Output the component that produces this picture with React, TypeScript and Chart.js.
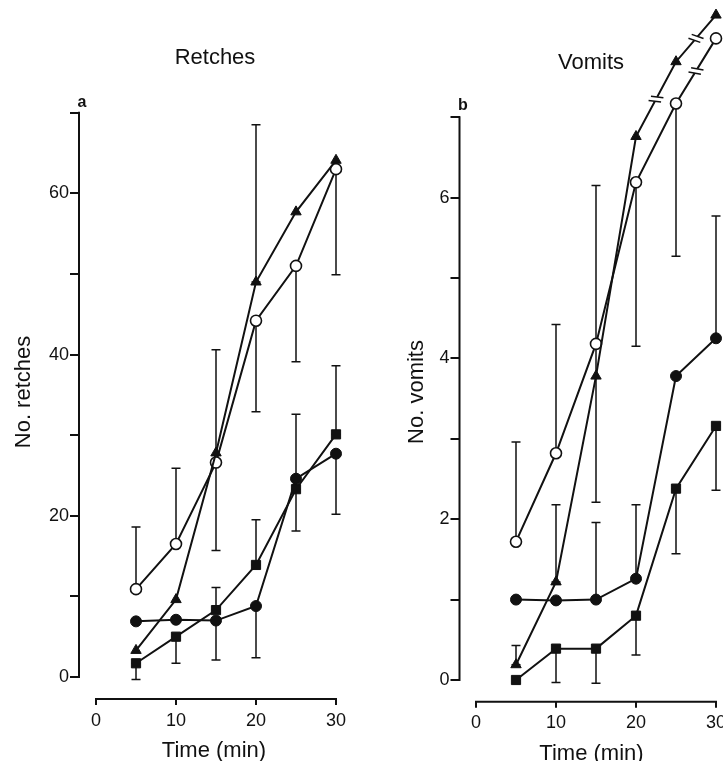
import React, { useEffect, useRef } from "react";
import { Chart, registerables } from "chart.js";

Chart.register(...registerables);

const FAMILY = "'Liberation Sans', Arial, Helvetica, sans-serif";
const INK = "#111111";

// ---- data ----
const TIMES = [5, 10, 15, 20, 25, 30];
const X_TICKS = [0, 10, 20, 30];

// Panel a: Retches
const RETCH_TICKS = [0, 10, 20, 30, 40, 50, 60, 70];
const RETCH_LABELS = [0, 20, 40, 60];
const retchOpen = [10.9, 16.5, 26.6, 44.2, 51.0, 63.0];
const retchTri = [3.3, 9.6, 27.8, 49.0, 57.7, 64.1];
const retchFilled = [6.9, 7.1, 7.0, 8.8, 24.6, 27.7];
const retchSquare = [1.7, 5.0, 8.3, 13.9, 23.3, 30.1];
// error bar extents [low, high] per time point
const retchOpenErr = [[10.9, 18.6], [16.5, 25.9], [15.7, 40.6], [32.9, 44.2], [39.1, 51.0], [49.9, 63.0]];
const retchTriErr = [null, null, null, [49.0, 68.5], null, null];
const retchFilledErr = [null, null, [2.1, 7.0], [2.4, 8.8], [18.1, 24.6], [20.2, 27.7]];
const retchSquareErr = [[-0.3, 1.7], [1.7, 5.0], [8.3, 11.1], [13.9, 19.5], [23.3, 32.6], [30.1, 38.6]];

// Panel b: Vomits
const VOMIT_TICKS = [0, 1, 2, 3, 4, 5, 6, 7];
const VOMIT_LABELS = [0, 2, 4, 6];
const vomitOpen = [1.72, 2.82, 4.18, 6.19, 7.17, 7.98];
const vomitTri = [0.19, 1.22, 3.78, 6.76, 7.69, 8.27];
const vomitFilled = [1.0, 0.99, 1.0, 1.26, 3.78, 4.25];
const vomitSquare = [0, 0.39, 0.39, 0.8, 2.38, 3.16];
const vomitOpenErr = [[1.72, 2.96], [2.82, 4.42], [2.21, 6.15], [4.15, 6.19], [5.27, 7.17], null];
const vomitTriErr = [[0.19, 0.43], [1.22, 2.18], null, null, null, null];
const vomitFilledErr = [null, null, [1.0, 1.96], [1.26, 2.18], null, [4.25, 5.77]];
const vomitSquareErr = [null, [-0.03, 0.39], [-0.04, 0.39], [0.31, 0.8], [1.57, 2.38], [2.36, 3.16]];
// axis-break marks: [series index, segment index]
const vomitBreaks = [[2, 3], [2, 4], [3, 4]];

type Kind = "open" | "tri" | "filled" | "square";
type Series = { kind: Kind; data: number[]; err: (number[] | null)[] };

const STYLE: Record<Kind, any> = {
  open: { pointStyle: "circle", pointRadius: 5.5, pointBackgroundColor: "#ffffff", pointBorderWidth: 1.6 },
  tri: { pointStyle: "triangle", pointRadius: 6, pointBackgroundColor: INK, pointBorderWidth: 1 },
  filled: { pointStyle: "circle", pointRadius: 5.5, pointBackgroundColor: INK, pointBorderWidth: 1 },
  square: { pointStyle: "rect", pointRadius: 6.5, pointBackgroundColor: INK, pointBorderWidth: 1 },
};

type Panel = {
  title: string;
  letter: string;
  yTitle: string;
  yTicks: number[];
  yLabels: number[];
  series: Series[];
  breaks: number[][];
  geo: any;
};

const PANELS: Panel[] = [
  {
    title: "Retches",
    letter: "a",
    yTitle: "No. retches",
    yTicks: RETCH_TICKS,
    yLabels: RETCH_LABELS,
    series: [
      { kind: "square", data: retchSquare, err: retchSquareErr },
      { kind: "filled", data: retchFilled, err: retchFilledErr },
      { kind: "tri", data: retchTri, err: retchTriErr },
      { kind: "open", data: retchOpen, err: retchOpenErr },
    ],
    breaks: [],
    geo: {
      left: 0, top: 0, width: 361, height: 764,
      areaLeft: 79, padTop: 96.6, padRight: 12, xScaleH: 65,
      xMin: -2.125, xMax: 31.625, yMin: -2.73, yMax: 72,
      xTitlePad: 0,
      titleX: 215, titleY: 58, letterX: 82, letterY: 103, yTitleX: 24, yTitleY: 392,
    },
  },
  {
    title: "Vomits",
    letter: "b",
    yTitle: "No. vomits",
    yTicks: VOMIT_TICKS,
    yLabels: VOMIT_LABELS,
    series: [
      { kind: "square", data: vomitSquare, err: vomitSquareErr },
      { kind: "filled", data: vomitFilled, err: vomitFilledErr },
      { kind: "tri", data: vomitTri, err: vomitTriErr },
      { kind: "open", data: vomitOpen, err: vomitOpenErr },
    ],
    breaks: vomitBreaks,
    geo: {
      left: 361, top: 0, width: 400, height: 771,
      areaLeft: 98.5, padTop: 20.7, padRight: 37.5, xScaleH: 69.3,
      xMin: -2.0625, xMax: 30.9375, yMin: -0.27, yMax: 8.2,
      xTitlePad: 4,
      titleX: 230, titleY: 63, letterX: 102, letterY: 106, yTitleX: 56, yTitleY: 392,
    },
  },
];

function buildChart(canvas: HTMLCanvasElement, p: Panel) {
  const g = p.geo;
  const datasets = p.series.map((s) => ({
    data: TIMES.map((t, i) => ({ x: t, y: s.data[i] })),
    borderColor: INK,
    borderWidth: 2,
    tension: 0,
    fill: false,
    clip: false as any,
    pointBorderColor: INK,
    ...STYLE[s.kind],
  }));

  const deco = {
    id: "deco",
    beforeDatasetsDraw(chart: any) {
      const { ctx, chartArea } = chart;
      const x = chart.scales.x;
      const y = chart.scales.y;
      ctx.save();
      ctx.strokeStyle = INK;
      // axis lines
      ctx.lineWidth = 2;
      ctx.beginPath();
      ctx.moveTo(chartArea.left, y.getPixelForValue(p.yTicks[0]) + 1);
      ctx.lineTo(chartArea.left, y.getPixelForValue(p.yTicks[p.yTicks.length - 1]) - 1);
      ctx.moveTo(x.getPixelForValue(X_TICKS[0]) - 1, chartArea.bottom);
      ctx.lineTo(x.getPixelForValue(X_TICKS[X_TICKS.length - 1]) + 1, chartArea.bottom);
      ctx.stroke();
      // error bars
      ctx.lineWidth = 1.5;
      p.series.forEach((s) =>
        s.err.forEach((e, i) => {
          if (!e) return;
          const px = x.getPixelForValue(TIMES[i]);
          const y1 = y.getPixelForValue(e[0]);
          const y2 = y.getPixelForValue(e[1]);
          ctx.beginPath();
          ctx.moveTo(px, y1);
          ctx.lineTo(px, y2);
          ctx.moveTo(px - 4.5, y1);
          ctx.lineTo(px + 4.5, y1);
          ctx.moveTo(px - 4.5, y2);
          ctx.lineTo(px + 4.5, y2);
          ctx.stroke();
        })
      );
      ctx.restore();
    },
    afterDatasetsDraw(chart: any) {
      const { ctx } = chart;
      const x = chart.scales.x;
      const y = chart.scales.y;
      ctx.save();
      p.breaks.forEach(([si, seg]) => {
        const s = p.series[si];
        const ax = x.getPixelForValue(TIMES[seg]);
        const ay = y.getPixelForValue(s.data[seg]);
        const bx = x.getPixelForValue(TIMES[seg + 1]);
        const by = y.getPixelForValue(s.data[seg + 1]);
        const mx = (ax + bx) / 2;
        const my = (ay + by) / 2;
        const len = Math.hypot(bx - ax, by - ay);
        const dx = (bx - ax) / len;
        const dy = (by - ay) / len;
        const nx = -dy;
        const ny = dx;
        // gap
        ctx.strokeStyle = "#ffffff";
        ctx.lineWidth = 4;
        ctx.beginPath();
        ctx.moveTo(mx - dx * 2.5, my - dy * 2.5);
        ctx.lineTo(mx + dx * 2.5, my + dy * 2.5);
        ctx.stroke();
        // two slashes
        ctx.strokeStyle = INK;
        ctx.lineWidth = 1.5;
        const sx = nx * 0.9 + dx * 0.35;
        const sy = ny * 0.9 + dy * 0.35;
        [-2.5, 2.5].forEach((o) => {
          const cx = mx + dx * o;
          const cy = my + dy * o;
          ctx.beginPath();
          ctx.moveTo(cx - sx * 6.5, cy - sy * 6.5);
          ctx.lineTo(cx + sx * 6.5, cy + sy * 6.5);
          ctx.stroke();
        });
      });
      ctx.restore();
    },
    afterDraw(chart: any) {
      const { ctx } = chart;
      ctx.save();
      ctx.fillStyle = INK;
      ctx.textAlign = "center";
      ctx.textBaseline = "middle";
      ctx.font = `22px ${FAMILY}`;
      ctx.fillText(p.title, g.titleX, g.titleY);
      ctx.font = `bold 16px ${FAMILY}`;
      ctx.fillText(p.letter, g.letterX, g.letterY);
      ctx.translate(g.yTitleX, g.yTitleY);
      ctx.rotate(-Math.PI / 2);
      ctx.font = `22px ${FAMILY}`;
      ctx.fillText(p.yTitle, 0, 0);
      ctx.restore();
    },
  };

  return new Chart(canvas, {
    type: "line",
    data: { datasets: datasets as any },
    plugins: [deco],
    options: {
      responsive: false,
      animation: false,
      events: [],
      layout: { padding: { top: g.padTop, right: g.padRight, left: 0, bottom: 0 } },
      plugins: { legend: { display: false }, tooltip: { enabled: false }, title: { display: false } },
      scales: {
        x: {
          type: "linear",
          min: g.xMin,
          max: g.xMax,
          bounds: "data",
          afterBuildTicks: (s: any) => {
            s.ticks = X_TICKS.map((v) => ({ value: v }));
          },
          afterFit: (s: any) => {
            s.height = g.xScaleH;
          },
          grid: { display: true, drawOnChartArea: false, drawTicks: true, tickLength: 6, color: INK, lineWidth: 2 },
          border: { display: false },
          ticks: { color: INK, font: { family: FAMILY, size: 18 }, padding: 5, maxRotation: 0, autoSkip: false },
          title: {
            display: true,
            text: "Time (min)",
            color: INK,
            font: { family: FAMILY, size: 22 },
            padding: { top: 0, bottom: g.xTitlePad },
          },
        },
        y: {
          type: "linear",
          min: g.yMin,
          max: g.yMax,
          bounds: "data",
          afterBuildTicks: (s: any) => {
            s.ticks = p.yTicks.map((v) => ({ value: v }));
          },
          afterFit: (s: any) => {
            s.width = g.areaLeft;
          },
          grid: { display: true, drawOnChartArea: false, drawTicks: true, tickLength: 9, color: INK, lineWidth: 2 },
          border: { display: false },
          ticks: {
            color: INK,
            font: { family: FAMILY, size: 18 },
            padding: 1,
            autoSkip: false,
            callback: (v: any) => (p.yLabels.includes(Number(v)) ? String(v) : ""),
          },
        },
      },
    } as any,
  });
}

function PanelChart({ panel }: { panel: Panel }) {
  const ref = useRef<HTMLCanvasElement | null>(null);
  useEffect(() => {
    if (!ref.current) return;
    const c = buildChart(ref.current, panel);
    return () => c.destroy();
  }, [panel]);
  const g = panel.geo;
  return (
    <canvas
      ref={ref}
      width={g.width}
      height={g.height}
      style={{ position: "absolute", left: g.left, top: g.top, width: g.width, height: g.height }}
    />
  );
}

export default function App() {
  return (
    <div
      style={{
        position: "fixed",
        left: 0,
        top: 0,
        width: 723,
        height: 761,
        overflow: "hidden",
        background: "#ffffff",
      }}
    >
      {PANELS.map((p) => (
        <PanelChart key={p.letter} panel={p} />
      ))}
    </div>
  );
}
